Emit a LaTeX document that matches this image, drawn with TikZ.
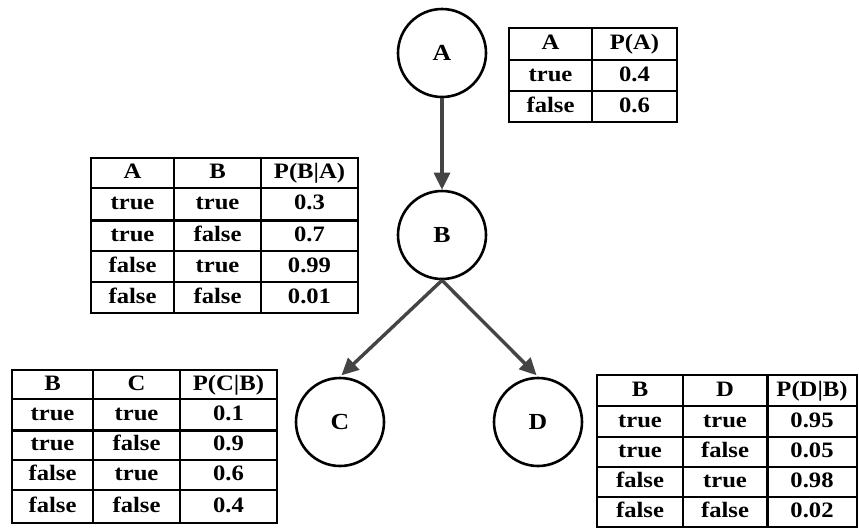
\documentclass[tikz,border=0pt]{standalone}
\usepackage{fontspec}
\setmainfont{Liberation Serif}
\newfontfamily\tabfont[FakeStretch=1.12]{Liberation Serif}
\usetikzlibrary{arrows.meta}
\definecolor{edge}{HTML}{444444}

\begin{document}
\begin{tikzpicture}[x=1pt, y=-1pt,
    var/.style={draw, circle, line width=2.6pt, minimum size=88pt, inner sep=0pt, font=\tabfont\fontsize{23}{26}\selectfont\bfseries},
    ar/.style={-{Triangle[length=17pt, width=16pt]}, edge, line width=3.4pt},
    cell/.style={font=\tabfont\fontsize{22}{25}\selectfont\bfseries, inner sep=0pt, text height=15pt, text depth=4pt},
    tabline/.style={line width=1.3pt},
    tabthick/.style={line width=3pt}
  ]
  \useasboundingbox (0,0) rectangle (859,531);

  % network
  \node[var] (A) at (442,53) {A};
  \node[var] (B) at (442,235) {B};
  \node[var] (C) at (340,422) {C};
  \node[var] (D) at (538,422) {D};
  \draw[ar] (A) -- (B);
  \draw[ar, shorten >=2pt] (B.south) -- (C.north);
  \draw[ar, shorten >=2pt] (B.south) -- (D.north);

  % P(A)
  \draw[tabline] (509,28) rectangle (677,122);
  \draw[tabline] (592,28) -- (592,122);
  \foreach \y in {60,91} \draw[tabline] (509,\y) -- (677,\y);
  \foreach \y/\a/\p [count=\r] in {44/A/{P(A)}, 75.5/true/0.4, 106.5/false/0.6} {
    \node[cell] (pa-\r-1) at (550.5,\y) {\a};
    \node[cell] (pa-\r-2) at (634.5,\y) {\p};
  }

  % P(B|A)
  \draw[tabline] (91,158) rectangle (358,313);
  \foreach \x in {174,261} \draw[tabline] (\x,158) -- (\x,313);
  \foreach \y in {188,251,282} \draw[tabline] (91,\y) -- (358,\y);
  \draw[tabthick] (91,220) -- (358,220);
  \foreach \y/\a/\b/\p [count=\r] in {173/A/B/{P(B|A)}, 204/true/true/0.3, 235.5/true/false/0.7, 266.5/false/true/0.99, 297.5/false/false/0.01} {
    \node[cell] (pba-\r-1) at (132.5,\y) {\a};
    \node[cell] (pba-\r-2) at (217.5,\y) {\b};
    \node[cell] (pba-\r-3) at (309.5,\y) {\p};
  }

  % P(C|B)
  \draw[tabline] (12,370) rectangle (277,523);
  \foreach \x in {93,180} \draw[tabline] (\x,370) -- (\x,523);
  \foreach \y in {399,460,490} \draw[tabline] (12,\y) -- (277,\y);
  \draw[tabthick] (12,430) -- (277,430);
  \foreach \y/\b/\c/\p [count=\r] in {384.5/B/C/{P(C|B)}, 414.5/true/true/0.1, 445/true/false/0.9, 475/false/true/0.6, 506.5/false/false/0.4} {
    \node[cell] (pcb-\r-1) at (52.5,\y) {\b};
    \node[cell] (pcb-\r-2) at (136.5,\y) {\c};
    \node[cell] (pcb-\r-3) at (228.5,\y) {\p};
  }

  % P(D|B)
  \draw[tabline] (597,375) rectangle (857,527);
  \draw[tabline] (683,375) -- (683,527);
  \draw[tabthick] (767,375) -- (767,527);
  \foreach \y in {406,437,467,497} \draw[tabline] (597,\y) -- (857,\y);
  \foreach \y/\b/\d/\p [count=\r] in {390.5/B/D/{P(D|B)}, 421.5/true/true/0.95, 452/true/false/0.05, 482/false/true/0.98, 512/false/false/0.02} {
    \node[cell] (pdb-\r-1) at (640,\y) {\b};
    \node[cell] (pdb-\r-2) at (725,\y) {\d};
    \node[cell] (pdb-\r-3) at (812,\y) {\p};
  }
\end{tikzpicture}
\end{document}
